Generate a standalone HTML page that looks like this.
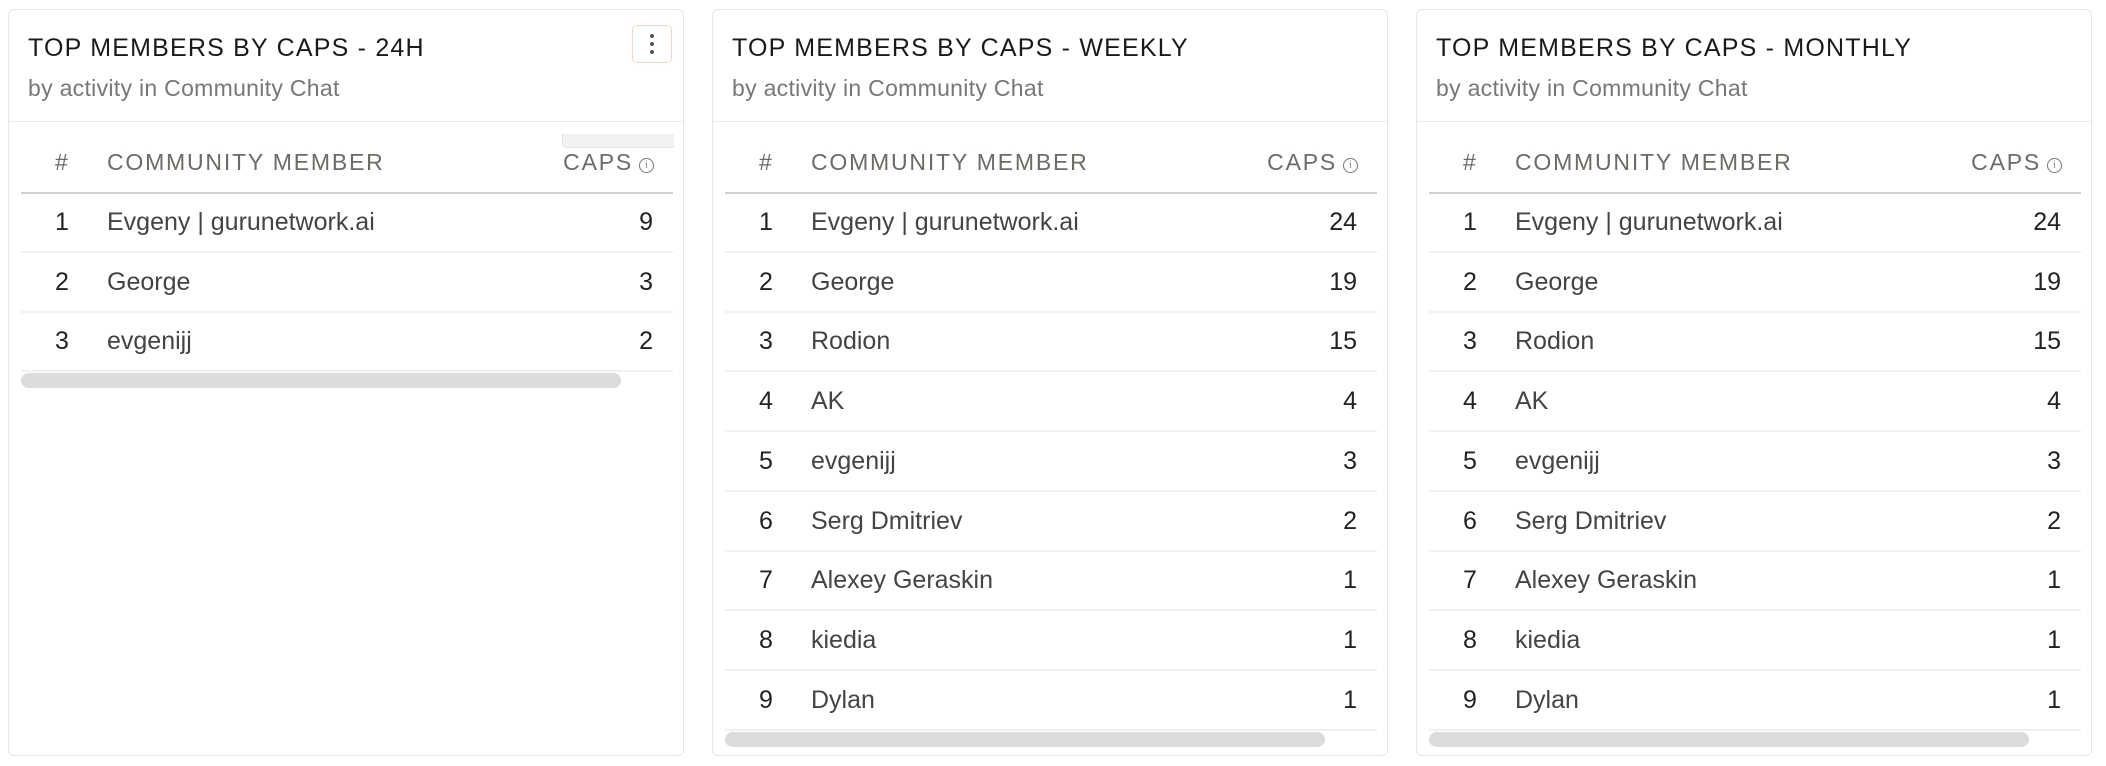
<!DOCTYPE html>
<html><head><meta charset="utf-8">
<style>
body{margin:0;width:2106px;height:766px;background:#fff;font-family:"Liberation Sans",sans-serif;position:relative;overflow:hidden}
.card{position:absolute;top:9px;width:676px;height:747px;border:1px solid #e6e6e6;border-radius:6px;box-sizing:border-box;background:#fff}
.title{position:absolute;left:19px;top:24px;font-size:25px;letter-spacing:1.2px;color:#1a1a1a;white-space:nowrap}
.sub{position:absolute;left:19px;top:65px;font-size:23px;color:#777;white-space:nowrap;letter-spacing:0.3px}
.hdiv{position:absolute;left:0;right:0;top:111px;height:1px;background:#ececec}
.menu{position:absolute;left:623px;top:15px;width:40px;height:38px;border:1.5px solid #f3d6cc;border-radius:5px;box-sizing:border-box}
.menu i{position:absolute;left:17px;width:4px;height:4px;border-radius:2px;background:#555}
.tab{position:absolute;left:553px;top:124px;width:111px;height:13px;background:#f2f2f2;border-radius:0 0 0 5px;border-left:1px solid #e3e3e3;border-bottom:1px solid #e3e3e3}
.th{position:absolute;top:140px;font-size:23px;letter-spacing:1.8px;color:#6e6a65;white-space:nowrap;line-height:24px}
.thline{position:absolute;left:12px;width:652px;top:182px;height:2px;background:#cfcfcf}
.cell{position:absolute;font-size:25px;line-height:26px;white-space:nowrap}
.sep{position:absolute;left:12px;width:652px;height:2px;background:#f0f0f0}
.scroll{position:absolute;left:12px;height:15px;border-radius:8px;background:#dcdcdc}
.info{display:inline-block;width:13px;height:13px;border:1.5px solid #777;border-radius:50%;font-size:10px;line-height:13px;text-align:center;vertical-align:2px;margin-left:6px;letter-spacing:0;color:#777}
</style></head><body>
<div id="root"></div>
<script>
const titles=["TOP MEMBERS BY CAPS - 24H","TOP MEMBERS BY CAPS - WEEKLY","TOP MEMBERS BY CAPS - MONTHLY"];
const names24h=["Evgeny | gurunetwork.ai","George","evgenijj"];
const caps24h=[9,3,2];
const namesWeekly=["Evgeny | gurunetwork.ai","George","Rodion","AK","evgenijj","Serg Dmitriev","Alexey Geraskin","kiedia","Dylan"];
const capsWeekly=[24,19,15,4,3,2,1,1,1];
const namesMonthly=["Evgeny | gurunetwork.ai","George","Rodion","AK","evgenijj","Serg Dmitriev","Alexey Geraskin","kiedia","Dylan"];
const capsMonthly=[24,19,15,4,3,2,1,1,1];
const lefts=[8,712,1416];
const sets=[[names24h,caps24h],[namesWeekly,capsWeekly],[namesMonthly,capsMonthly]];
const root=document.getElementById('root');
function mk(cls,parent,html){const e=document.createElement('div');e.className=cls;if(html!==undefined)e.innerHTML=html;parent.appendChild(e);return e;}
sets.forEach((s,ci)=>{
  const c=mk('card',root);c.style.left=lefts[ci]+'px';
  
  
  const t=mk('title',c,titles[ci]);
  
  
  const sb=mk('sub',c,'by activity in Community Chat');
  
  
  mk('hdiv',c);
  if(ci===0){
    const m=mk('menu',c,'<i style="top:8px"></i><i style="top:16px"></i><i style="top:24px"></i>');
    
    
    mk('tab',c);
  }
  const h1=mk('th',c,'#');h1.style.left='46px';
  
  
  const h2=mk('th',c,'COMMUNITY MEMBER');h2.style.left='98px';
  
  
  const h3=mk('th',c,'CAPS<span class="info">i</span>');h3.style.right='29px';
  
  
  mk('thline',c);
  const [names,caps]=s;
  names.forEach((n,i)=>{
    const y=199+i*59.7;
    const r=mk('cell',c,String(i+1));r.style.left='45px';r.style.top=y+'px';r.style.color='#222';r.style.width='16px';r.style.textAlign='center';
    
    
    const nm=mk('cell',c,n);nm.style.left='98px';nm.style.top=y+'px';nm.style.color='#444';
    
    
    const v=mk('cell',c,String(caps[i]));v.style.right='30px';v.style.top=y+'px';v.style.color='#222';
    
    
    const sp=mk('sep',c);sp.style.top=(241+i*59.7)+'px';
  });
  const sc=mk('scroll',c);
  sc.style.top=(244+(names.length-1)*59.7)+'px';
  sc.style.width='600px';
  
  
});
</script>
</body></html>
